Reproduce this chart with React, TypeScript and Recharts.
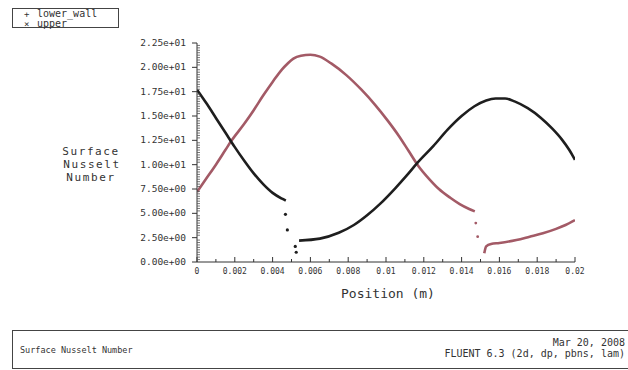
import React from "react";
import { ComposedChart, Line, Scatter, XAxis, YAxis } from "recharts";

// lower_wall series (black)
const lowerSeg1X = [0, 0.0005, 0.001, 0.0015, 0.002, 0.0025, 0.003, 0.0035, 0.004, 0.0045, 0.0047];
const lowerSeg1Y = [17.7, 16.3, 14.8, 13.3, 11.8, 10.4, 9.1, 8.0, 7.1, 6.5, 6.3];
const lowerGapX = [0.00468, 0.00478, 0.0052, 0.00525];
const lowerGapY = [4.9, 3.3, 1.6, 1.0];
const lowerSeg2X = [0.0054, 0.0065, 0.0075, 0.0083, 0.009, 0.0097, 0.0105, 0.0111, 0.01167, 0.0125, 0.01326, 0.014, 0.01468, 0.0153, 0.0158, 0.0163, 0.0168, 0.0175, 0.0182, 0.0188, 0.0193, 0.0197, 0.02];
const lowerSeg2Y = [2.2, 2.4, 3.0, 3.8, 4.8, 6.0, 7.6, 8.9, 10.2, 11.9, 13.6, 15.0, 16.0, 16.6, 16.8, 16.8, 16.5, 15.8, 14.8, 13.7, 12.6, 11.5, 10.5];

// upper series (red)
const upperSeg1X = [0, 0.0005, 0.001, 0.0015, 0.0018, 0.0025, 0.003, 0.0035, 0.004, 0.0045, 0.0048, 0.0051, 0.0055, 0.006, 0.0065, 0.0071, 0.0079, 0.0087, 0.0094, 0.0101, 0.0107, 0.0112, 0.0117, 0.0123, 0.0128, 0.0134, 0.0139, 0.0144, 0.0147];
const upperSeg1Y = [7.2, 8.6, 10.0, 11.5, 12.4, 14.2, 15.6, 17.1, 18.5, 19.8, 20.4, 20.9, 21.2, 21.3, 21.1, 20.4, 19.2, 17.7, 16.2, 14.5, 12.9, 11.4, 9.9, 8.5, 7.5, 6.6, 5.95, 5.45, 5.2];
const upperGapX = [0.01475, 0.01485];
const upperGapY = [4.0, 2.6];
const upperSeg2X = [0.0152, 0.0153, 0.01556, 0.016, 0.0169, 0.0176, 0.0183, 0.019, 0.0195, 0.02];
const upperSeg2Y = [0.9, 1.6, 1.85, 1.95, 2.26, 2.6, 2.95, 3.4, 3.8, 4.3];

// ticks
const xMajorTicks = [0, 0.002, 0.004, 0.006, 0.008, 0.01, 0.012, 0.014, 0.016, 0.018, 0.02];
const xTickLabels = ["0", "0.002", "0.004", "0.006", "0.008", "0.01", "0.012", "0.014", "0.016", "0.018", "0.02"];
const yMajorTicks = [0, 2.5, 5, 7.5, 10, 12.5, 15, 17.5, 20, 22.5];
const yTickLabels = ["0.00e+00", "2.50e+00", "5.00e+00", "7.50e+00", "1.00e+01", "1.25e+01", "1.50e+01", "1.75e+01", "2.00e+01", "2.25e+01"];

const xAllTicks: number[] = [];
for (let i = 0; i <= 20; i++) xAllTicks.push(+(i * 0.001).toFixed(4));
const yAllTicks: number[] = [];
for (let i = 0; i <= 90; i++) yAllTicks.push(+(i * 0.25).toFixed(2));

const zip = (xs: number[], ys: number[]) => xs.map((x, i) => ({ x, y: ys[i] }));

const BLACK = "#1e1e1e";
const RED = "#a35a66";
const TEXT = "#333";
const MONO = "'DejaVu Sans Mono', 'Liberation Mono', monospace";

const XTick = (props: any) => {
  const { x, y, payload } = props;
  const v = payload.value;
  const idx = xMajorTicks.findIndex((m) => Math.abs(m - v) < 1e-9);
  const major = idx >= 0;
  return (
    <g>
      <line x1={x} x2={x} y1={y} y2={y - (major ? 5 : 3)} stroke="#333" strokeWidth={1} />
      {major && (
        <text x={x} y={y + 12} textAnchor="middle" fontFamily={MONO} fontSize={8} fill={TEXT}>
          {xTickLabels[idx]}
        </text>
      )}
    </g>
  );
};

const YTick = (props: any) => {
  const { x, y, payload } = props;
  const v = payload.value;
  const idx = yMajorTicks.findIndex((m) => Math.abs(m - v) < 1e-9);
  const major = idx >= 0;
  return (
    <g>
      {major ? (
        <line x1={x - 5} x2={x} y1={y} y2={y} stroke="#333" strokeWidth={1} />
      ) : (
        <line x1={x} x2={x + 3} y1={y} y2={y} stroke="#555" strokeWidth={0.8} />
      )}
      {major && (
        <text x={x - 11} y={y + 3} textAnchor="end" fontFamily={MONO} fontSize={9.5} fill={TEXT}>
          {yTickLabels[idx]}
        </text>
      )}
    </g>
  );
};

export default function App() {
  return (
    <div style={{ position: "absolute", left: 0, top: 0, width: 628, height: 370, background: "#fff", overflow: "hidden" }}>
      <ComposedChart width={628} height={370} margin={{ top: 43, right: 53, bottom: 88, left: 0 }}>
        <XAxis
          type="number"
          dataKey="x"
          domain={[0, 0.02]}
          ticks={xAllTicks}
          interval={0}
          tickSize={0}
          tickMargin={0}
          tickLine={false}
          tick={<XTick />}
          height={20}
          stroke="#333"
          allowDataOverflow
        />
        <YAxis
          type="number"
          dataKey="y"
          domain={[0, 22.5]}
          ticks={yAllTicks}
          interval={0}
          tickSize={0}
          tickMargin={0}
          tickLine={false}
          tick={<YTick />}
          width={197}
          stroke="#333"
          allowDataOverflow
        />
        <Line data={zip(upperSeg1X, upperSeg1Y)} dataKey="y" type="monotone" stroke={RED} strokeWidth={2.6} dot={false} isAnimationActive={false} />
        <Line data={zip(upperSeg2X, upperSeg2Y)} dataKey="y" type="monotone" stroke={RED} strokeWidth={2.6} dot={false} isAnimationActive={false} />
        <Line data={zip(lowerSeg1X, lowerSeg1Y)} dataKey="y" type="monotone" stroke={BLACK} strokeWidth={2.6} dot={false} isAnimationActive={false} />
        <Line data={zip(lowerSeg2X, lowerSeg2Y)} dataKey="y" type="monotone" stroke={BLACK} strokeWidth={2.6} dot={false} isAnimationActive={false} />
        <Scatter data={zip(lowerGapX, lowerGapY)} dataKey="y" fill={BLACK} shape={(p: any) => <circle cx={p.cx} cy={p.cy} r={1.6} fill={BLACK} />} isAnimationActive={false} />
        <Scatter data={zip(upperGapX, upperGapY)} dataKey="y" fill={RED} shape={(p: any) => <circle cx={p.cx} cy={p.cy} r={1.4} fill={RED} />} isAnimationActive={false} />
      </ComposedChart>
      <svg width={628} height={370} style={{ position: "absolute", left: 0, top: 0, pointerEvents: "none" }}>
        {/* legend */}
        <rect x={12.5} y={8.5} width={106} height={19} fill="none" stroke="#444" strokeWidth={1} />
        <text x={24} y={16.5} fontFamily={MONO} fontSize={9} fill={TEXT}>+</text>
        <text x={37} y={16.5} fontFamily={MONO} fontSize={10} fill={TEXT}>lower_wall</text>
        <text x={24} y={26.5} fontFamily={MONO} fontSize={9} fill={TEXT}>×</text>
        <text x={37} y={26.5} fontFamily={MONO} fontSize={10} fill={TEXT}>upper</text>
        {/* y label */}
        <text x={91} y={155} textAnchor="middle" fontFamily={MONO} fontSize={11} letterSpacing={1.6} fill={TEXT}>Surface</text>
        <text x={92} y={168} textAnchor="middle" fontFamily={MONO} fontSize={11} letterSpacing={1.6} fill={TEXT}>Nusselt</text>
        <text x={91} y={181} textAnchor="middle" fontFamily={MONO} fontSize={11} letterSpacing={1.6} fill={TEXT}>Number</text>
        {/* x label */}
        <text x={388} y={298} textAnchor="middle" fontFamily={MONO} fontSize={13} fill={TEXT}>Position (m)</text>
        {/* bottom box */}
        <rect x={12.5} y={330.5} width={640} height={38} fill="none" stroke="#444" strokeWidth={1} />
        <text x={20} y={353} fontFamily={MONO} fontSize={8.5} fill={TEXT}>Surface Nusselt Number</text>
        <text x={625} y={346} textAnchor="end" fontFamily={MONO} fontSize={10} fill={TEXT}>Mar 20, 2008</text>
        <text x={625} y={357} textAnchor="end" fontFamily={MONO} fontSize={10} fill={TEXT}>FLUENT 6.3 (2d, dp, pbns, lam)</text>
      </svg>
    </div>
  );
}
